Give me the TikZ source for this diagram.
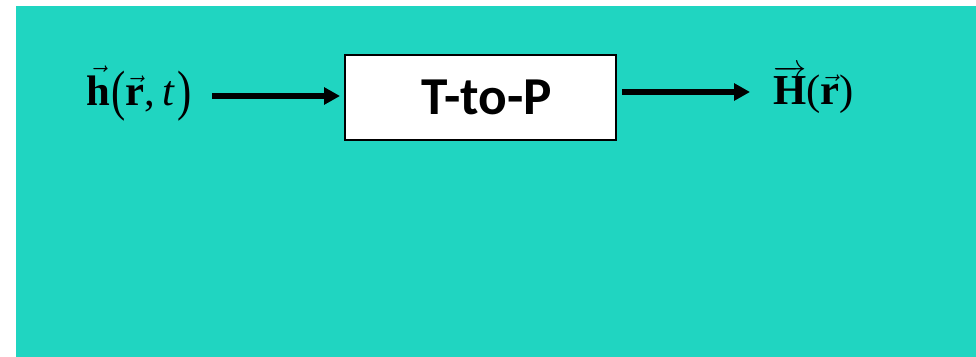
\documentclass[tikz,border=0pt]{standalone}
\usepackage{fontspec}
\usepackage{graphicx}
\setmainfont{Liberation Serif}
\newfontfamily\calibri{Carlito}
\usetikzlibrary{arrows.meta}
\definecolor{bgteal}{RGB}{32,213,193}
\newcommand{\bvec}[1]{$\vec{\mbox{\bfseries #1}}$}
\newcommand{\tallparen}[1]{\raisebox{-0.11em}{\scalebox{1}[1.3]{#1}}}
\tikzset{
  block/.style={draw, fill=white, line width=1.5pt, minimum width=271*0.75pt,
    minimum height=85*0.75pt, inner sep=0pt},
  blocktext/.style={inner sep=0pt, font=\fontsize{40}{48}\selectfont\calibri\bfseries},
  sig/.style={inner sep=0pt, anchor=base west, font=\fontsize{32}{38}\selectfont},
  flow/.style={-{Triangle[length=12pt, width=12.5pt]}, line width=3.8pt}
}
\begin{document}
\begin{tikzpicture}[x=0.75pt,y=-0.75pt]
      \useasboundingbox (0,0) rectangle (976,357);
      \fill[bgteal] (16,6) rectangle (976,357);
      \draw
        (86,105) node[sig] (h){\bvec{h}\hspace{1pt}\tallparen{(}\bvec{r},\,\textit{t}\hspace{2pt}\tallparen{)}}
        (480.5,97.5) node[block] (ttop){}
        (486.5,97.5) node[blocktext] (ttoptext){T-to-P}
        (773,104) node[sig] (H){$\overrightarrow{\mbox{\bfseries H}}$(\bvec{r})};
      \coordinate (in) at (212,96);
      \coordinate (out) at (750,92);
      \begin{scope}[flow]
        \draw (in) to ([xshift=-3pt]in -| ttop.west);
        \draw ([xshift=3.75pt]out -| ttop.east) to (out);
      \end{scope}
    \end{tikzpicture}
\end{document}
